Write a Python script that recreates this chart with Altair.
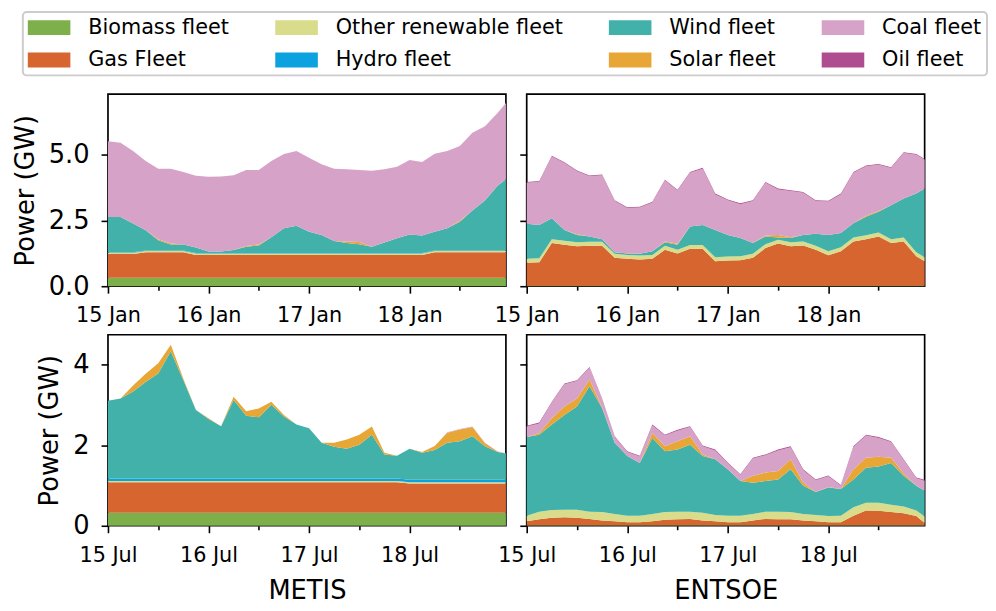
import altair as alt
import pandas as pd

# ---------------- data (GW), sampled every 3 h + last hour ----------------
HOURS = [0, 3, 6, 9, 12, 15, 18, 21, 24, 27, 30, 33, 36, 39, 42, 45, 48, 51, 54,
         57, 60, 63, 66, 69, 72, 75, 78, 81, 84, 87, 90, 93, 95]

SERIES = ["Biomass fleet", "Gas Fleet", "Other renewable fleet", "Hydro fleet",
          "Wind fleet", "Solar fleet", "Coal fleet", "Oil fleet"]
COLORS = ["#7daf4b", "#d7652f", "#d8dc8b", "#0ba2df",
          "#42b1aa", "#e8a636", "#d7a2c7", "#ae4d8f"]

# --- January, METIS ---
jan_metis_biomass = [0.32, 0.32, 0.32, 0.32, 0.32, 0.32, 0.32, 0.32, 0.32, 0.32, 0.32,
                     0.32, 0.32, 0.32, 0.32, 0.32, 0.32, 0.32, 0.32, 0.32, 0.32, 0.32,
                     0.32, 0.32, 0.32, 0.32, 0.32, 0.32, 0.32, 0.32, 0.32, 0.32, 0.32]
jan_metis_gas = [0.90, 0.90, 0.90, 0.97, 0.97, 0.97, 0.97, 0.87, 0.87, 0.87, 0.87,
                 0.87, 0.87, 0.87, 0.87, 0.87, 0.87, 0.87, 0.87, 0.87, 0.87, 0.87,
                 0.87, 0.87, 0.87, 0.87, 0.97, 0.97, 0.97, 0.97, 0.97, 0.97, 0.97]
jan_metis_other = [0.05, 0.05, 0.05, 0.05, 0.05, 0.05, 0.05, 0.05, 0.05, 0.05, 0.05,
                   0.05, 0.05, 0.05, 0.05, 0.05, 0.05, 0.05, 0.05, 0.05, 0.05, 0.05,
                   0.05, 0.05, 0.05, 0.05, 0.05, 0.05, 0.05, 0.05, 0.05, 0.05, 0.05]
jan_metis_hydro = [0.02, 0.02, 0.02, 0.02, 0.02, 0.02, 0.02, 0.02, 0.02, 0.02, 0.02,
                   0.02, 0.02, 0.02, 0.02, 0.02, 0.02, 0.02, 0.02, 0.02, 0.02, 0.02,
                   0.02, 0.02, 0.02, 0.02, 0.02, 0.02, 0.02, 0.02, 0.02, 0.02, 0.02]
jan_metis_wind = [1.34, 1.34, 1.09, 0.77, 0.39, 0.23, 0.23, 0.21, 0.06, 0.06, 0.12,
                  0.24, 0.29, 0.60, 0.94, 1.04, 0.81, 0.69, 0.46, 0.38, 0.34, 0.24,
                  0.40, 0.56, 0.71, 0.67, 0.71, 0.84, 1.09, 1.52, 1.90, 2.46, 2.71]
jan_metis_solar = [0.00, 0.00, 0.00, 0.00, 0.04, 0.03, 0.00, 0.00, 0.00, 0.00, 0.00,
                   0.03, 0.04, 0.00, 0.00, 0.00, 0.00, 0.00, 0.00, 0.06, 0.08, 0.00,
                   0.00, 0.00, 0.00, 0.00, 0.00, 0.00, 0.04, 0.00, 0.00, 0.00, 0.00]
jan_metis_coal = [2.88, 2.82, 2.76, 2.63, 2.68, 2.85, 2.75, 2.73, 2.84, 2.85, 2.84,
                  2.89, 2.83, 2.90, 2.83, 2.84, 2.81, 2.69, 2.75, 2.75, 2.74, 2.89,
                  2.79, 2.72, 2.83, 2.79, 2.97, 2.94, 2.84, 2.95, 2.82, 2.76, 2.89]

# --- January, ENTSOE ---
jan_entsoe_biomass = [0.02, 0.02, 0.02, 0.02, 0.02, 0.02, 0.02, 0.02, 0.02, 0.02, 0.02,
                      0.02, 0.02, 0.02, 0.02, 0.02, 0.02, 0.02, 0.02, 0.02, 0.02, 0.02,
                      0.02, 0.02, 0.02, 0.02, 0.02, 0.02, 0.02, 0.02, 0.02, 0.02, 0.02]
jan_entsoe_gas = [0.87, 0.89, 1.62, 1.56, 1.50, 1.52, 1.52, 1.06, 1.02, 1.00, 1.02,
                  1.37, 1.22, 1.40, 1.40, 0.93, 0.96, 0.97, 1.06, 1.43, 1.60, 1.50,
                  1.53, 1.37, 1.16, 1.31, 1.68, 1.77, 1.87, 1.62, 1.68, 1.12, 0.93]
jan_entsoe_other = [0.15, 0.15, 0.15, 0.15, 0.15, 0.15, 0.15, 0.15, 0.15, 0.15, 0.15,
                    0.15, 0.15, 0.15, 0.15, 0.15, 0.15, 0.15, 0.15, 0.15, 0.15, 0.15,
                    0.15, 0.15, 0.15, 0.15, 0.15, 0.15, 0.15, 0.15, 0.15, 0.15, 0.15]
jan_entsoe_wind = [1.33, 1.27, 0.79, 0.41, 0.28, 0.20, 0.10, 0.06, 0.05, 0.06, 0.14,
                   0.13, 0.19, 0.70, 0.76, 1.04, 0.82, 0.69, 0.41, 0.29, 0.08, 0.16,
                   0.25, 0.45, 0.62, 0.54, 0.54, 0.70, 0.79, 1.29, 1.48, 2.23, 2.61]
jan_entsoe_solar = [0.00, 0.00, 0.00, 0.00, 0.03, 0.00, 0.00, 0.00, 0.00, 0.00, 0.00,
                    0.03, 0.03, 0.00, 0.00, 0.00, 0.00, 0.00, 0.00, 0.04, 0.10, 0.03,
                    0.00, 0.00, 0.00, 0.00, 0.00, 0.04, 0.03, 0.00, 0.00, 0.00, 0.00]
jan_entsoe_coal = [1.56, 1.64, 2.35, 2.54, 2.39, 2.29, 2.43, 1.95, 1.73, 1.76, 1.85,
                   2.32, 2.03, 2.04, 2.14, 1.35, 1.32, 1.29, 1.60, 2.00, 1.73, 1.76,
                   1.60, 1.25, 1.27, 1.47, 1.92, 1.88, 1.76, 1.41, 1.73, 1.48, 1.10]
jan_entsoe_oil = [0.03, 0.03, 0.03, 0.03, 0.03, 0.03, 0.03, 0.03, 0.03, 0.03, 0.03,
                  0.03, 0.03, 0.03, 0.03, 0.03, 0.03, 0.03, 0.03, 0.03, 0.03, 0.03,
                  0.03, 0.03, 0.03, 0.03, 0.03, 0.03, 0.03, 0.03, 0.03, 0.03, 0.03]

# --- July, METIS ---
jul_metis_biomass = [0.32, 0.32, 0.32, 0.32, 0.32, 0.32, 0.32, 0.32, 0.32, 0.32, 0.32,
                     0.32, 0.32, 0.32, 0.32, 0.32, 0.32, 0.32, 0.32, 0.32, 0.32, 0.32,
                     0.32, 0.32, 0.32, 0.32, 0.32, 0.32, 0.32, 0.32, 0.32, 0.32, 0.32]
jul_metis_gas = [0.76, 0.76, 0.76, 0.76, 0.76, 0.76, 0.76, 0.76, 0.76, 0.76, 0.76,
                 0.76, 0.76, 0.76, 0.76, 0.76, 0.76, 0.76, 0.76, 0.76, 0.76, 0.76,
                 0.76, 0.76, 0.73, 0.73, 0.73, 0.73, 0.73, 0.73, 0.73, 0.73, 0.73]
jul_metis_other = [0.03, 0.03, 0.03, 0.03, 0.03, 0.03, 0.03, 0.03, 0.03, 0.03, 0.03,
                   0.03, 0.03, 0.03, 0.03, 0.03, 0.03, 0.03, 0.03, 0.03, 0.03, 0.03,
                   0.03, 0.03, 0.03, 0.03, 0.03, 0.03, 0.03, 0.03, 0.03, 0.03, 0.03]
jul_metis_hydro = [0.06, 0.06, 0.06, 0.06, 0.06, 0.06, 0.06, 0.06, 0.06, 0.06, 0.06,
                   0.06, 0.06, 0.06, 0.06, 0.06, 0.06, 0.06, 0.06, 0.06, 0.06, 0.06,
                   0.06, 0.06, 0.06, 0.06, 0.06, 0.06, 0.06, 0.06, 0.06, 0.06, 0.06]
jul_metis_wind = [1.93, 1.99, 2.16, 2.40, 2.61, 3.16, 2.44, 1.70, 1.48, 1.30, 1.95,
                  1.56, 1.52, 1.83, 1.54, 1.34, 1.25, 0.89, 0.79, 0.74, 0.84, 1.09,
                  0.60, 0.57, 0.77, 0.67, 0.74, 0.92, 0.96, 1.08, 0.83, 0.69, 0.65]
jul_metis_solar = [0.00, 0.00, 0.15, 0.20, 0.25, 0.16, 0.04, 0.00, 0.02, 0.00, 0.08,
                   0.11, 0.22, 0.08, 0.04, 0.00, 0.00, 0.00, 0.10, 0.23, 0.25, 0.20,
                   0.04, 0.00, 0.00, 0.02, 0.10, 0.25, 0.29, 0.23, 0.08, 0.01, 0.00]
jul_metis_coal = [0.00, 0.00, 0.00, 0.00, 0.00, 0.00, 0.00, 0.00, 0.00, 0.00, 0.00,
                  0.00, 0.00, 0.00, 0.00, 0.00, 0.00, 0.00, 0.00, 0.00, 0.00, 0.00,
                  0.00, 0.00, 0.00, 0.00, 0.00, 0.01, 0.01, 0.01, 0.01, 0.01, 0.01]

# --- July, ENTSOE ---
jul_entsoe_biomass = [0.01, 0.01, 0.01, 0.01, 0.01, 0.01, 0.01, 0.01, 0.01, 0.01, 0.01,
                      0.01, 0.01, 0.01, 0.01, 0.01, 0.01, 0.01, 0.01, 0.01, 0.01, 0.01,
                      0.01, 0.01, 0.01, 0.01, 0.01, 0.01, 0.01, 0.01, 0.01, 0.01, 0.01]
jul_entsoe_gas = [0.10, 0.15, 0.19, 0.20, 0.19, 0.16, 0.12, 0.10, 0.08, 0.08, 0.10,
                  0.14, 0.15, 0.16, 0.12, 0.10, 0.08, 0.08, 0.12, 0.16, 0.15, 0.15,
                  0.12, 0.10, 0.08, 0.08, 0.24, 0.37, 0.36, 0.33, 0.30, 0.23, 0.06]
jul_entsoe_other = [0.14, 0.19, 0.19, 0.19, 0.20, 0.18, 0.21, 0.18, 0.16, 0.16, 0.18,
                    0.19, 0.19, 0.18, 0.19, 0.16, 0.16, 0.16, 0.16, 0.18, 0.19, 0.18,
                    0.16, 0.16, 0.15, 0.16, 0.21, 0.19, 0.20, 0.18, 0.17, 0.14, 0.16]
jul_entsoe_wind = [1.95, 1.91, 2.12, 2.35, 2.56, 3.11, 2.58, 1.77, 1.48, 1.31, 1.89,
                   1.51, 1.54, 1.66, 1.41, 1.38, 1.15, 0.86, 0.78, 0.76, 0.80, 1.06,
                   0.70, 0.57, 0.71, 0.66, 0.69, 0.87, 0.90, 1.04, 0.76, 0.61, 0.64]
jul_entsoe_solar = [0.00, 0.04, 0.16, 0.21, 0.20, 0.17, 0.02, 0.00, 0.00, 0.00, 0.12,
                    0.12, 0.21, 0.21, 0.04, 0.00, 0.01, 0.00, 0.17, 0.21, 0.21, 0.25,
                    0.08, 0.00, 0.01, 0.00, 0.25, 0.25, 0.24, 0.13, 0.06, 0.00, 0.00]
jul_entsoe_coal = [0.26, 0.24, 0.39, 0.55, 0.43, 0.29, 0.20, 0.14, 0.10, 0.16, 0.19,
                   0.27, 0.26, 0.23, 0.20, 0.22, 0.14, 0.15, 0.43, 0.43, 0.51, 0.30,
                   0.31, 0.29, 0.27, 0.08, 0.55, 0.55, 0.47, 0.39, 0.33, 0.19, 0.25]
jul_entsoe_oil = [0.02, 0.02, 0.02, 0.02, 0.02, 0.02, 0.02, 0.02, 0.02, 0.02, 0.02,
                  0.02, 0.02, 0.02, 0.02, 0.02, 0.02, 0.02, 0.02, 0.02, 0.02, 0.02,
                  0.02, 0.02, 0.02, 0.02, 0.02, 0.02, 0.02, 0.02, 0.02, 0.02, 0.02]

PANELS = {
    "jan_metis": ("2018-01-15", {
        "Biomass fleet": jan_metis_biomass, "Gas Fleet": jan_metis_gas,
        "Other renewable fleet": jan_metis_other, "Hydro fleet": jan_metis_hydro,
        "Wind fleet": jan_metis_wind, "Solar fleet": jan_metis_solar,
        "Coal fleet": jan_metis_coal}),
    "jan_entsoe": ("2018-01-15", {
        "Biomass fleet": jan_entsoe_biomass, "Gas Fleet": jan_entsoe_gas,
        "Other renewable fleet": jan_entsoe_other, "Wind fleet": jan_entsoe_wind,
        "Solar fleet": jan_entsoe_solar, "Coal fleet": jan_entsoe_coal,
        "Oil fleet": jan_entsoe_oil}),
    "jul_metis": ("2018-07-15", {
        "Biomass fleet": jul_metis_biomass, "Gas Fleet": jul_metis_gas,
        "Other renewable fleet": jul_metis_other, "Hydro fleet": jul_metis_hydro,
        "Wind fleet": jul_metis_wind, "Solar fleet": jul_metis_solar,
        "Coal fleet": jul_metis_coal}),
    "jul_entsoe": ("2018-07-15", {
        "Biomass fleet": jul_entsoe_biomass, "Gas Fleet": jul_entsoe_gas,
        "Other renewable fleet": jul_entsoe_other, "Wind fleet": jul_entsoe_wind,
        "Solar fleet": jul_entsoe_solar, "Coal fleet": jul_entsoe_coal,
        "Oil fleet": jul_entsoe_oil}),
}


def frame(start, cols):
    t0 = pd.Timestamp(start)
    rows = []
    for k, name in enumerate(SERIES):
        if name not in cols:
            continue
        for h, v in zip(HOURS, cols[name]):
            rows.append({"t": (t0 + pd.Timedelta(hours=h)).strftime("%Y-%m-%dT%H:%M:%S"),
                         "series": name, "k": k, "v": v})
    return pd.DataFrame(rows)


FONT = "DejaVu Sans"
W = 402

legend = alt.Legend(
    orient="none", legendX=-86, legendY=-83, columns=4, values=SERIES,
    title=None, symbolType="M-2.867,-1H2.867V1H-2.867Z", symbolSize=225,
    symbolStrokeWidth=0, symbolOffset=11, labelOffset=29, columnPadding=45,
    rowPadding=11, padding=5, strokeColor="#cccccc", cornerRadius=4,
    fillColor="white", labelFont=FONT, labelFontSize=21, labelColor="black",
    labelLimit=400,
)


def panel(key, month, ymax, yvals, yfmt, left, xtitle, height):
    start, cols = PANELS[key]
    df = frame(start, cols)
    dom = [alt.DateTime(year=2018, month=month, date=15, hours=0),
           alt.DateTime(year=2018, month=month, date=18, hours=23)]
    tvals = [alt.DateTime(year=2018, month=month, date=d, hours=hh)
             for d in (15, 16, 17, 18) for hh in (0, 12)]
    xaxis = alt.Axis(
        values=tvals,
        labelExpr="hours(datum.value) == 12 ? '' : timeFormat(datum.value, '%d %b')",
        tickSize={"condition": {"test": "hours(datum.value) == 12", "value": 4}, "value": 7},
        labelFlush=False, labelOverlap=False, labelPadding=12, titlePadding=12,
        title=xtitle if xtitle else None,
    )
    yaxis = alt.Axis(values=yvals, format=yfmt, labels=left, labelFontSize=26,
                     labelPadding=12, titlePadding=10,
                     title="Power (GW)" if left else None)
    return alt.Chart(df).mark_area(interpolate="linear").encode(
        x=alt.X("t:T", scale=alt.Scale(domain=dom), axis=xaxis),
        y=alt.Y("v:Q", stack="zero", scale=alt.Scale(domain=[0, ymax], nice=False),
                axis=yaxis),
        color=alt.Color("series:N", scale=alt.Scale(domain=SERIES, range=COLORS),
                        legend=legend),
        order=alt.Order("k:Q", sort="ascending"),
    ).properties(width=W, height=height)


tl = panel("jan_metis", 1, 7.3, [0, 2.5, 5.0], ".1f", True, None, 194)
tr = panel("jan_entsoe", 1, 7.3, [0, 2.5, 5.0], ".1f", False, None, 194)
bl = panel("jul_metis", 7, 4.74, [0, 2, 4], "d", True, "METIS", 193)
br = panel("jul_entsoe", 7, 4.74, [0, 2, 4], "d", False, "ENTSOE", 193)

chart = alt.concat(
    tl, tr, bl, br, columns=2, spacing={"row": 49, "column": 21}, bounds="flush"
).properties(
    padding={"left": 3, "top": 0, "right": 0, "bottom": 0}
).configure_axis(
    labelFont=FONT, labelFontSize=21, labelColor="black",
    titleFont=FONT, titleFontSize=26, titleFontWeight="normal", titleColor="black",
    tickColor="black", tickWidth=1.6, tickSize=7, domain=False, grid=False,
).configure_legend(
    strokeWidth=2,
).configure_view(stroke="black", strokeWidth=1.7)

chart.save("out.html", embed_options={"renderer": "svg", "actions": False})
